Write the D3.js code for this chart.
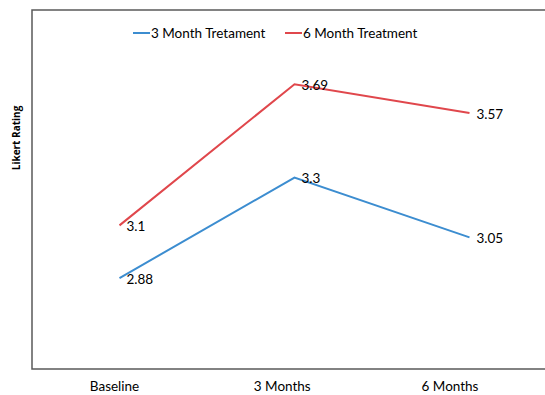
<!DOCTYPE html>
<html>
<head>
<meta charset="utf-8">
<script src="https://cdn.jsdelivr.net/npm/d3@7"></script>
<style>
  body { margin: 0; background: #fff; }
  text { font-family: Lato, "Open Sans", sans-serif; fill: #000; }
</style>
</head>
<body>
<svg class="chart" width="545" height="395"></svg>
<script>
var categories = ["Baseline", "3 Months", "6 Months"];
var seriesNames = ["3 Month Tretament", "6 Month Treatment"];
var threeMonth = [2.88, 3.3, 3.05];
var sixMonth = [3.1, 3.69, 3.57];
var colors = ["#3c8dd0", "#e0474c"];

var margin = {top: 10, left: 32, bottom: 26};
var width = 545, height = 395;

var chart = d3.select(".chart");

// categories sit in equal bands, the right edge runs past the window
var x = d3.scaleBand()
	.domain(categories)
	.range([margin.left, margin.left + 525]);

// tick labels are slightly left of the points in the original
var xLabel = d3.scalePoint()
	.domain(categories)
	.range([114.5, 450]);

var y = d3.scaleLinear()
	.domain([2.5, 4])
	.range([height - margin.bottom, margin.top]);

// frame: left, top, bottom
chart.append("path")
	.attr("d", "M" + (width + 5) + "," + y(4) + "H" + margin.left + "V" + y(2.5) + "H" + (width + 5))
	.attr("fill", "none")
	.attr("stroke", "#595959")
	.attr("stroke-width", 1.5);

var series = [
	{name: seriesNames[0], values: threeMonth, color: colors[0]},
	{name: seriesNames[1], values: sixMonth, color: colors[1]}
];

var line = d3.line()
	.x(function(d, i) { return x(categories[i]) + x.bandwidth() / 2; })
	.y(function(d) { return y(d); });

var g = chart.selectAll("g.series")
	.data(series)
.enter().append("g")
	.attr("class", "series");

g.append("path")
	.attr("d", function(d) { return line(d.values); })
	.attr("fill", "none")
	.attr("stroke", function(d) { return d.color; })
	.attr("stroke-width", 2);

g.selectAll("text")
	.data(function(d) { return d.values; })
.enter().append("text")
	.attr("x", function(d, i) { return x(categories[i]) + x.bandwidth() / 2 + 7; })
	.attr("y", function(d) { return y(d) + 1; })
	.attr("dy", ".35em")
	.style("font-size", "13.5px")
	.text(function(d) { return d3.format(".3~f")(d); });

// category labels
chart.selectAll("text.xlabel")
	.data(categories)
.enter().append("text")
	.attr("class", "xlabel")
	.attr("x", function(d) { return xLabel(d); })
	.attr("y", 391)
	.style("text-anchor", "middle")
	.style("font-size", "13.5px")
	.text(function(d) { return d; });

// y axis title
chart.append("text")
	.attr("transform", "translate(20,138) rotate(-90)")
	.style("text-anchor", "middle")
	.style("font-family", "'Open Sans', sans-serif")
	.style("font-size", "10px")
	.style("font-weight", "bold")
	.text("Likert Rating");

// legend
var legendX = [133, 285];
var leg = chart.selectAll("g.legend")
	.data(series)
.enter().append("g")
	.attr("class", "legend")
	.attr("transform", function(d, i) { return "translate(" + legendX[i] + ",33)"; });

leg.append("line")
	.attr("x1", 0)
	.attr("x2", 17)
	.attr("stroke", function(d) { return d.color; })
	.attr("stroke-width", 2);

leg.append("text")
	.attr("x", 18)
	.attr("dy", ".35em")
	.style("font-size", "13.5px")
	.text(function(d) { return d.name; });
</script>
</body>
</html>
